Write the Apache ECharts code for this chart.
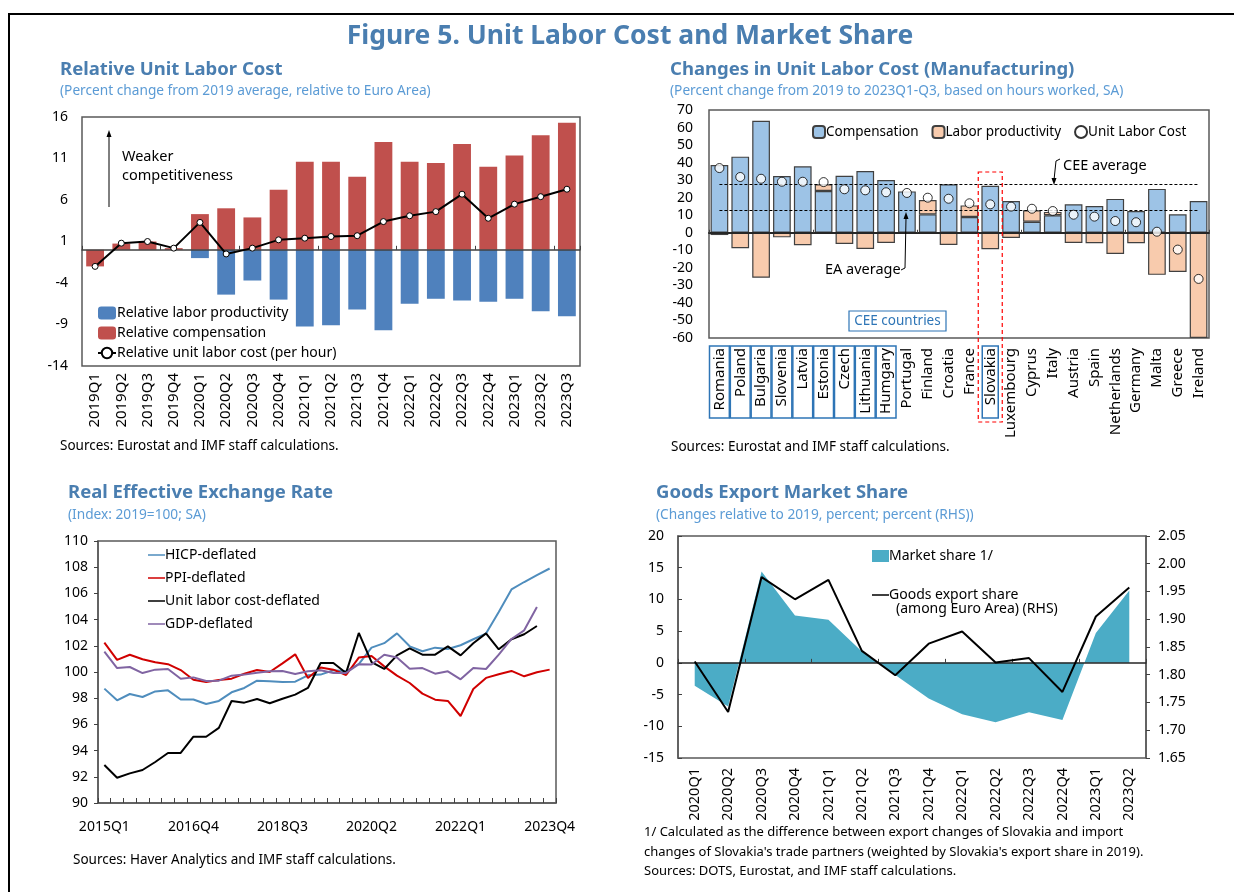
<!DOCTYPE html>
<html>
<head>
<meta charset="utf-8">
<script src="https://cdn.jsdelivr.net/npm/echarts@6/dist/echarts.min.js"></script>
<style>
  html, body { margin: 0; padding: 0; background: #fff; }
  #chart { width: 1234px; height: 892px; }
</style>
</head>
<body>
<div id="chart"></div>
<script>
// ---- data ----
const ulcQuarters = ['2019Q1','2019Q2','2019Q3','2019Q4','2020Q1','2020Q2','2020Q3','2020Q4',
  '2021Q1','2021Q2','2021Q3','2021Q4','2022Q1','2022Q2','2022Q3','2022Q4','2023Q1','2023Q2','2023Q3'];
const relProductivity = [0, 0, 0, 0, -1.0, -5.4, -3.7, -6.0, -9.25, -9.1, -7.2, -9.7, -6.5, -5.9, -6.1, -6.25, -5.9, -7.4, -8.0];
const relCompensation = [-2.0, 0.75, 1.0, 0.2, 4.3, 5.0, 3.9, 7.25, 10.6, 10.6, 8.8, 13.0, 10.6, 10.45, 12.75, 10.0, 11.35, 13.8, 15.3];
const relUlc = [-2.0, 0.8, 1.0, 0.2, 3.3, -0.5, 0.2, 1.2, 1.4, 1.6, 1.7, 3.4, 4.1, 4.6, 6.7, 3.8, 5.5, 6.4, 7.3];

const countries = ['Romania','Poland','Bulgaria','Slovenia','Latvia','Estonia','Czech','Lithuania','Humgary',
  'Portugal','Finland','Croatia','France','Slovakia','Luxembourg','Cyprus','Italy','Austria','Spain',
  'Netherlands','Germany','Malta','Greece','Ireland'];
const ceeCountries = ['Romania','Poland','Bulgaria','Slovenia','Latvia','Estonia','Czech','Lithuania','Humgary'];
const compensation = [38.6, 43.4, 63.9, 32.4, 37.9, 23.8, 32.5, 35.2, 30.1, 23.6, 10.5, 27.6, 9.0, 26.8, 18.1, 6.3, 10.0, 16.2, 15.3, 19.3, 12.4, 25.0, 10.5, 18.1];
const laborProductivity = [-1.3, -8.8, -25.6, -2.6, -7.1, 3.8, -6.4, -9.2, -5.8, -0.7, 8.2, -7.0, 6.6, -9.4, -3.0, 6.5, 1.9, -5.8, -6.0, -12.1, -6.0, -24.0, -22.3, -60];
const unitLaborCost = [36.9, 31.8, 30.8, 29.1, 29.1, 28.9, 24.8, 24.2, 23.1, 22.7, 20.0, 19.4, 16.8, 16.2, 14.9, 13.7, 12.4, 10.3, 9.2, 6.7, 6.0, 0.6, -9.6, -26.3];
const ceeAverage = 27.6;
const eaAverage = 12.8;

const reerQuarters = ['2015Q1','2015Q2','2015Q3','2015Q4','2016Q1','2016Q2','2016Q3','2016Q4',
  '2017Q1','2017Q2','2017Q3','2017Q4','2018Q1','2018Q2','2018Q3','2018Q4','2019Q1','2019Q2','2019Q3','2019Q4',
  '2020Q1','2020Q2','2020Q3','2020Q4','2021Q1','2021Q2','2021Q3','2021Q4','2022Q1','2022Q2','2022Q3','2022Q4',
  '2023Q1','2023Q2','2023Q3','2023Q4'];
const hicp = [98.73, 97.84, 98.32, 98.09, 98.52, 98.6, 97.9, 97.9, 97.56, 97.79, 98.45, 98.78, 99.34, 99.29, 99.24, 99.26,
  99.75, 99.8, 100.13, 100.05, 100.6, 101.86, 102.2, 102.95, 101.96, 101.58, 101.86, 101.76, 102.04, 102.5, 102.93, 104.58,
  106.3, 106.87, 107.4, 107.9];
const ppi = [102.24, 100.92, 101.32, 100.97, 100.74, 100.6, 100.15, 99.41, 99.24, 99.39, 99.49, 99.87, 100.15, 100.0, 100.66, 101.35,
  99.54, 100.35, 100.18, 99.77, 101.1, 101.22, 100.43, 99.72, 99.16, 98.35, 97.89, 97.79, 96.64, 98.7, 99.55, 99.83,
  100.08, 99.67, 99.98, 100.18];
const ulcDeflated = [92.9, 91.93, 92.26, 92.52, 93.13, 93.82, 93.82, 95.06, 95.06, 95.73, 97.79, 97.66, 97.94, 97.61, 97.96, 98.27,
  98.78, 100.69, 100.69, 99.93, 102.98, 100.76, 100.23, 101.27, 101.81, 101.32, 101.32, 101.96, 101.27, 102.2, 102.95, 101.73,
  102.5, 102.88, 103.51, null];
const gdpDeflated = [101.55, 100.3, 100.38, 99.92, 100.18, 100.23, 99.49, 99.59, 99.31, 99.34, 99.72, 99.8, 99.95, 100.05, 100.08, 99.85,
  100.05, 100.13, 99.93, 99.93, 100.6, 100.57, 101.32, 101.1, 100.25, 100.3, 99.87, 100.05, 99.44, 100.3, 100.23, 101.32,
  102.52, 103.18, 104.96, null];

const msQuarters = ['2020Q1','2020Q2','2020Q3','2020Q4','2021Q1','2021Q2','2021Q3','2021Q4',
  '2022Q1','2022Q2','2022Q3','2022Q4','2023Q1','2023Q2'];
const marketShare = [-3.6, -6.9, 14.4, 7.45, 6.8, 1.8, -1.9, -5.6, -8.1, -9.35, -7.8, -9.0, 4.7, 11.4];
const exportShare = [1.824, 1.733, 1.976, 1.936, 1.971, 1.843, 1.799, 1.856, 1.878, 1.822, 1.830, 1.769, 1.905, 1.957];

// ---- styles ----
const FONT = '"Noto Sans", sans-serif';
const TITLE_BLUE = '#4a7eb0';
const SUB_BLUE = '#5b9bd5';
const FRAME = '#595959';
const axisText = { color: '#000', fontFamily: FONT, fontSize: 14 };
// plain line icon for legends (invisible moves keep the box height)
const LINE_ICON = 'path://M0,0 M0,5.2 L18,5.2 L18,6.8 L0,6.8 Z M18,12';

const chart = echarts.init(document.getElementById('chart'));

function gridBox(left, top, width, height) {
  return { left, top, width, height, show: true, borderColor: FRAME, borderWidth: 1.5,
    containLabel: false, outerBoundsMode: 'none' };
}

const option = {
  animation: false,
  textStyle: { fontFamily: FONT },
  grid: [
    gridBox(82, 117, 498, 249),
    gridBox(709, 110, 500, 228),
    gridBox(98, 541, 458, 262),
    gridBox(678, 536, 468, 222)
  ],
  legend: [
    {
      orient: 'vertical', left: 92, top: 301, itemGap: 6, itemWidth: 18, itemHeight: 13,
      textStyle: { fontFamily: FONT, fontSize: 14, color: '#000', padding: [0, 0, 0, -4] },
      data: ['Relative labor productivity', 'Relative compensation', 'Relative unit labor cost (per hour)']
    },
    {
      orient: 'horizontal', left: 807, top: 120, itemGap: 13, itemWidth: 12, itemHeight: 12,
      textStyle: { fontFamily: FONT, fontSize: 13.5, color: '#000', padding: [0, 0, 0, -4] },
      data: ['Compensation', 'Labor productivity', { name: 'Unit Labor Cost', icon: 'circle' }]
    },
    {
      orient: 'vertical', left: 143, top: 543, itemGap: 9, itemWidth: 17, itemHeight: 12,
      textStyle: { fontFamily: FONT, fontSize: 14, color: '#000', padding: [0, 0, 0, -5] },
      data: [
        { name: 'HICP-deflated', icon: LINE_ICON },
        { name: 'PPI-deflated', icon: LINE_ICON },
        { name: 'Unit labor cost-deflated', icon: LINE_ICON },
        { name: 'GDP-deflated', icon: LINE_ICON }
      ]
    },
    {
      orient: 'vertical', left: 867, top: 544, itemGap: 25, itemWidth: 17, itemHeight: 12,
      textStyle: { fontFamily: FONT, fontSize: 14, color: '#000', padding: [0, 0, 0, -5] },
      data: [{ name: 'Market share 1/', icon: 'rect' }, { name: 'Goods export share', icon: LINE_ICON }]
    }
  ],
  xAxis: [
    { gridIndex: 0, type: 'category', data: ulcQuarters, position: 'bottom',
      axisLine: { show: false, onZero: false }, axisTick: { show: false },
      axisLabel: { ...axisText, fontSize: 15, rotate: 90, margin: 7, interval: 0 } },
    { gridIndex: 0, type: 'category', data: ulcQuarters, position: 'top', z: 5,
      axisLine: { onZero: true, lineStyle: { color: '#404040', width: 1.5 } },
      axisTick: { show: true, length: 4, lineStyle: { color: '#404040' } },
      axisLabel: { show: false } },
    { gridIndex: 1, type: 'category', data: countries, position: 'bottom',
      axisLine: { show: false, onZero: false }, axisTick: { show: false },
      axisLabel: { ...axisText, fontSize: 15, rotate: 90, margin: 10, interval: 0 } },
    { gridIndex: 1, type: 'category', data: countries, position: 'top', z: 5,
      axisLine: { onZero: true, lineStyle: { color: '#262626', width: 2 } },
      axisTick: { show: true, length: 3, lineStyle: { color: '#404040' } },
      axisLabel: { show: false } },
    { gridIndex: 2, type: 'category', data: reerQuarters, position: 'bottom',
      axisLine: { show: true, onZero: false, lineStyle: { color: FRAME, width: 1.5 } },
      axisTick: { show: true, inside: true, length: 5, interval: 0, lineStyle: { color: '#404040' } },
      axisLabel: { ...axisText, interval: 6, margin: 17 } },
    { gridIndex: 3, type: 'category', data: msQuarters, position: 'bottom',
      axisLine: { show: false, onZero: false }, axisTick: { show: false },
      axisLabel: { ...axisText, fontSize: 14.5, rotate: 90, margin: 10, interval: 0 } },
    { gridIndex: 3, type: 'category', data: msQuarters, position: 'top', z: 5,
      axisLine: { onZero: true, onZeroAxisIndex: 3, lineStyle: { color: '#262626', width: 1.5 } },
      axisTick: { show: true, length: 4, lineStyle: { color: '#404040' } },
      axisLabel: { show: false } }
  ],
  yAxis: [
    { gridIndex: 0, type: 'value', min: -14, max: 16, interval: 5,
      axisLine: { show: false }, axisTick: { show: false }, splitLine: { show: false },
      axisLabel: { ...axisText, margin: 14 } },
    { gridIndex: 1, type: 'value', min: -60, max: 70, interval: 10,
      axisLine: { show: false }, axisTick: { show: false }, splitLine: { show: false },
      axisLabel: { ...axisText, margin: 16 } },
    { gridIndex: 2, type: 'value', min: 90, max: 110, interval: 2,
      axisLine: { show: true, lineStyle: { color: FRAME, width: 1.5 } },
      axisTick: { show: true, length: 4, lineStyle: { color: '#404040' } }, splitLine: { show: false },
      axisLabel: { ...axisText, margin: 10 } },
    { gridIndex: 3, type: 'value', min: -15, max: 20, interval: 5, position: 'left',
      axisLine: { show: true, lineStyle: { color: FRAME, width: 1.5 } },
      axisTick: { show: true, inside: true, length: 4, lineStyle: { color: '#404040' } }, splitLine: { show: false },
      axisLabel: { ...axisText, margin: 14 } },
    { gridIndex: 3, type: 'value', min: 1.65, max: 2.05, interval: 0.05, position: 'right',
      axisLine: { show: true, lineStyle: { color: FRAME, width: 1.5 } },
      axisTick: { show: true, length: 4, lineStyle: { color: '#404040' } }, splitLine: { show: false },
      axisLabel: { ...axisText, margin: 12, formatter: v => v.toFixed(2) } }
  ],
  series: [
    // Relative unit labor cost
    { name: 'Relative labor productivity', type: 'bar', xAxisIndex: 0, yAxisIndex: 0, stack: 'ulc',
      data: relProductivity, barWidth: '68%', itemStyle: { color: '#4f81bd' } },
    { name: 'Relative compensation', type: 'bar', xAxisIndex: 0, yAxisIndex: 0, stack: 'ulc',
      data: relCompensation, barWidth: '68%', itemStyle: { color: '#c0504d' } },
    { name: 'Relative unit labor cost (per hour)', type: 'line', xAxisIndex: 0, yAxisIndex: 0, z: 10,
      data: relUlc, symbol: 'circle', symbolSize: 6, showSymbol: true,
      lineStyle: { color: '#000', width: 2 },
      itemStyle: { color: '#fff', borderColor: '#000', borderWidth: 1 } },
    // Manufacturing ULC by country
    { name: 'Compensation', type: 'bar', xAxisIndex: 2, yAxisIndex: 1, stack: 'mfg',
      data: compensation, barWidth: '85%',
      itemStyle: { color: '#9dc3e6', borderColor: '#404040', borderWidth: 1.2 },
      markLine: {
        silent: true, symbol: 'none', label: { show: false },
        lineStyle: { color: '#000', type: [3, 2], width: 1 },
        data: [
          [{ coord: [countries[0], ceeAverage] }, { coord: [countries[countries.length - 1], ceeAverage] }],
          [{ coord: [countries[0], eaAverage] }, { coord: [countries[countries.length - 1], eaAverage] }]
        ]
      } },
    { name: 'Labor productivity', type: 'bar', xAxisIndex: 2, yAxisIndex: 1, stack: 'mfg',
      data: laborProductivity, barWidth: '85%',
      itemStyle: { color: '#f8cbad', borderColor: '#404040', borderWidth: 1.2 } },
    { name: 'Unit Labor Cost', type: 'scatter', xAxisIndex: 2, yAxisIndex: 1, z: 10,
      data: unitLaborCost, symbol: 'circle', symbolSize: 9,
      itemStyle: { color: '#fff', borderColor: '#000', borderWidth: 1 } },
    // REER
    { name: 'HICP-deflated', type: 'line', xAxisIndex: 4, yAxisIndex: 2, data: hicp,
      symbol: 'none', lineStyle: { color: '#4f8dbd', width: 2 }, itemStyle: { color: '#4f8dbd' } },
    { name: 'PPI-deflated', type: 'line', xAxisIndex: 4, yAxisIndex: 2, data: ppi,
      symbol: 'none', lineStyle: { color: '#d00000', width: 2 }, itemStyle: { color: '#d00000' } },
    { name: 'Unit labor cost-deflated', type: 'line', xAxisIndex: 4, yAxisIndex: 2, data: ulcDeflated,
      symbol: 'none', lineStyle: { color: '#000', width: 2 }, itemStyle: { color: '#000' } },
    { name: 'GDP-deflated', type: 'line', xAxisIndex: 4, yAxisIndex: 2, data: gdpDeflated,
      symbol: 'none', lineStyle: { color: '#8064a2', width: 2 }, itemStyle: { color: '#8064a2' } },
    // Market share
    { name: 'Market share 1/', type: 'line', xAxisIndex: 5, yAxisIndex: 3, data: marketShare,
      symbol: 'none', lineStyle: { width: 0, color: '#4bacc6' }, itemStyle: { color: '#4bacc6' },
      areaStyle: { color: '#4bacc6', opacity: 1, origin: 0 } },
    { name: 'Goods export share', type: 'line', xAxisIndex: 5, yAxisIndex: 4, data: exportShare, z: 10,
      symbol: 'none', lineStyle: { color: '#000', width: 2 }, itemStyle: { color: '#000' } }
  ]
};

chart.setOption(option);

// ---- texts and annotations ----
function txt(text, x, y, size, fill, bold, align) {
  return { type: 'text', z: 100, style: { text, x, y, fill: fill || '#000', align: align || 'left',
    verticalAlign: 'middle', font: (bold ? 'bold ' : '') + size + 'px ' + FONT } };
}

const graphics = [
  { type: 'rect', z: 0, shape: { x: 9, y: 14, width: 1240, height: 900 }, style: { fill: 'none', stroke: '#000', lineWidth: 2 } },
  txt('Figure 5. Unit Labor Cost and Market Share', 630, 36, 26.5, TITLE_BLUE, true, 'center'),
  txt('Relative Unit Labor Cost', 60, 70, 18.5, TITLE_BLUE, true),
  txt('(Percent change from 2019 average, relative to Euro Area)', 60, 91, 13.7, SUB_BLUE),
  txt('Changes in Unit Labor Cost (Manufacturing)', 670, 70, 18.5, TITLE_BLUE, true),
  txt('(Percent change from 2019 to 2023Q1-Q3, based on hours worked, SA)', 670, 91, 13.7, SUB_BLUE),
  txt('Sources: Eurostat and IMF staff calculations.', 60, 446, 13.5),
  txt('Sources: Eurostat and IMF staff calculations.', 671, 447, 13.5),
  txt('Real Effective Exchange Rate', 68, 493, 18.5, TITLE_BLUE, true),
  txt('(Index: 2019=100; SA)', 68, 515, 13.7, SUB_BLUE),
  txt('Goods Export Market Share', 656, 493, 18.5, TITLE_BLUE, true),
  txt('(Changes relative to 2019, percent; percent (RHS))', 656, 515, 13.7, SUB_BLUE),
  txt('Sources: Haver Analytics and IMF staff calculations.', 73, 860, 13.5),
  txt('1/ Calculated as the difference between export changes of Slovakia and import', 644, 832, 13),
  txt("changes of Slovakia's trade partners (weighted by Slovakia's export share in 2019).", 644, 852, 13),
  txt('Sources: DOTS, Eurostat, and IMF staff calculations.', 644, 871, 13),
  // top-left arrow
  { type: 'line', z: 100, shape: { x1: 109, y1: 207, x2: 109, y2: 135 }, style: { stroke: '#000', lineWidth: 1 } },
  { type: 'polygon', z: 100, shape: { points: [[109, 130], [106.5, 137], [111.5, 137]] }, style: { fill: '#000' } },
  txt('Weaker', 122, 157, 14.5),
  txt('competitiveness', 122, 176, 14.5),
  // CEE / EA average pointers
  txt('CEE average', 1063, 166, 14.5),
  { type: 'polyline', z: 100, shape: { points: [[1060, 159], [1056, 161], [1054, 180]] }, style: { stroke: '#000', lineWidth: 1, fill: 'none' } },
  { type: 'polygon', z: 100, shape: { points: [[1054, 185], [1051.5, 178], [1056.5, 178]] }, style: { fill: '#000' } },
  txt('EA average', 825, 270, 14.5),
  { type: 'polyline', z: 100, shape: { points: [[901, 270], [905, 268], [906, 218]] }, style: { stroke: '#000', lineWidth: 1, fill: 'none' } },
  { type: 'polygon', z: 100, shape: { points: [[906, 212], [903.5, 219], [908.5, 219]] }, style: { fill: '#000' } },
  // CEE countries tag
  { type: 'rect', z: 100, shape: { x: 849, y: 311, width: 97, height: 20 }, style: { fill: '#fff', stroke: '#2e75b6', lineWidth: 1.2 } },
  txt('CEE countries', 897.5, 321, 13.5, '#2e75b6', false, 'center'),
  // bottom-right legend second line
  txt('(among Euro Area) (RHS)', 896, 609, 14)
];

// boxes around CEE labels and Slovakia highlight
const half = 500 / countries.length / 2;
ceeCountries.forEach(name => {
  const cx = chart.convertToPixel({ xAxisIndex: 2 }, name);
  graphics.push({ type: 'rect', z: 100, shape: { x: cx - half + 0.5, y: 346, width: half * 2 - 1, height: 72 },
    style: { fill: 'none', stroke: '#2e75b6', lineWidth: 1.5 } });
});
const sx = chart.convertToPixel({ xAxisIndex: 2 }, 'Slovakia');
graphics.push({ type: 'rect', z: 100, shape: { x: sx - 8, y: 346, width: 16, height: 72 },
  style: { fill: 'none', stroke: '#2e75b6', lineWidth: 1.5 } });
graphics.push({ type: 'rect', z: 100, shape: { x: sx - 12, y: 172, width: 24, height: 250 },
  style: { fill: 'none', stroke: '#ff0000', lineWidth: 1.2, lineDash: [4, 3] } });

chart.setOption({ graphic: graphics });
</script>
</body>
</html>
